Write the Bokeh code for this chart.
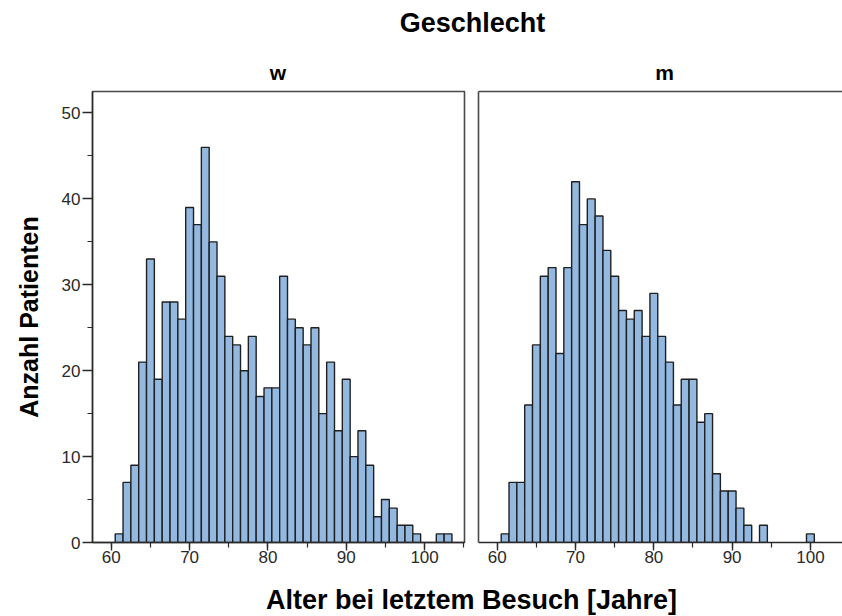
from bokeh.plotting import figure
from bokeh.models import (Range1d, LinearAxis, SingleIntervalTicker, FixedTicker,
                          Label, ColumnDataSource)
from bokeh.layouts import column, row
from bokeh.embed import file_html
from bokeh.resources import INLINE

# ---- data (bin centres in years, counts per 1-year bin) ----
ages_w = list(range(61, 104))
counts_w = [1, 7, 9, 21, 33, 19, 28, 28, 26, 39, 37, 46, 35, 31, 24, 23, 20, 24,
            17, 18, 18, 31, 26, 25, 23, 25, 15, 21, 13, 19, 10, 13, 9, 3, 5, 4,
            2, 2, 1, 0, 0, 1, 1]
ages_m = list(range(61, 101))
counts_m = [1, 7, 7, 16, 23, 31, 32, 22, 32, 42, 37, 40, 38, 34, 31, 27, 26, 27,
            24, 29, 24, 21, 16, 19, 19, 14, 15, 8, 6, 6, 4, 2, 0, 2, 0, 0, 0, 0,
            0, 1]
panel_titles = ["w", "m"]
main_title = "Geschlecht"
x_title = "Alter bei letztem Besuch [Jahre]"
y_title = "Anzahl Patienten"

FONT = "Liberation Sans"
BAR_FILL = "#94b9e0"
BAR_LINE = "#202020"
AX = "#2a2a2a"
FRAME = "#4a4a4a"


def style_xaxis(ax):
    ax.ticker = SingleIntervalTicker(interval=10, num_minor_ticks=2)
    ax.axis_line_color = AX
    ax.axis_line_width = 1.4
    ax.major_tick_line_color = AX
    ax.minor_tick_line_color = AX
    ax.major_tick_line_width = 1.4
    ax.minor_tick_line_width = 1.2
    ax.major_tick_in = 0
    ax.major_tick_out = 8
    ax.minor_tick_in = 0
    ax.minor_tick_out = 5
    ax.major_label_standoff = 0
    ax.major_label_text_font = FONT
    ax.major_label_text_font_size = "17px"
    ax.major_label_text_color = "#2a2a2a"


def make_panel(ages, counts, width, x_end, border_left, border_right, first):
    p = figure(width=width, height=494,
               x_range=Range1d(57.6, x_end), y_range=Range1d(0, 52.5),
               output_backend="svg", toolbar_location=None,
               min_border_top=3, min_border_bottom=40,
               min_border_left=border_left, min_border_right=border_right)
    p.grid.visible = False
    p.background_fill_color = "white"
    p.border_fill_color = "white"
    src = ColumnDataSource(dict(
        age=[a for a, c in zip(ages, counts) if c > 0],
        count=[c for c in counts if c > 0]))
    p.vbar(x="age", top="count", bottom=0, width=1, source=src,
           fill_color=BAR_FILL, line_color=BAR_LINE, line_width=1.4)
    style_xaxis(p.xaxis[0])
    ya = p.yaxis[0]
    ya.axis_line_color = AX
    ya.axis_line_width = 1.4
    if first:
        p.outline_line_color = FRAME
        p.outline_line_width = 1.6
        ya.ticker = SingleIntervalTicker(interval=10, num_minor_ticks=2)
        ya.major_tick_line_color = AX
        ya.minor_tick_line_color = AX
        ya.major_tick_line_width = 1.4
        ya.minor_tick_line_width = 1.2
        ya.major_tick_in = 0
        ya.major_tick_out = 10
        ya.minor_tick_in = 0
        ya.minor_tick_out = 5
        ya.major_label_standoff = 2
        ya.major_label_text_font = FONT
        ya.major_label_text_font_size = "17px"
        ya.major_label_text_color = "#2a2a2a"
        ya.axis_label = y_title
        ya.axis_label_text_font = FONT
        ya.axis_label_text_font_style = "bold"
        ya.axis_label_text_font_size = "25px"
        ya.axis_label_text_color = "black"
        ya.axis_label_standoff = 16
    else:
        p.outline_line_color = None
        ya.ticker = FixedTicker(ticks=[])
        ya.major_tick_out = 0
        ya.major_label_standoff = 0
        ya.axis_line_color = FRAME
        ya.axis_line_width = 1.6
        top_ax = LinearAxis(ticker=FixedTicker(ticks=[]), axis_line_color=FRAME,
                            axis_line_width=1.6, major_tick_out=0,
                            major_label_standoff=0)
        p.add_layout(top_ax, "above")
    return p


p1 = make_panel(ages_w, counts_w, 470, 105.1, 92, 6, True)
p2 = make_panel(ages_m, counts_m, 372, 104.1, 8, 0, False)

# header with overall title and panel titles
top = figure(width=842, height=88, x_range=Range1d(0, 842), y_range=Range1d(88, 0),
             output_backend="svg", toolbar_location=None, min_border=0,
             x_axis_type=None, y_axis_type=None, outline_line_color=None)
top.grid.visible = False
top.add_layout(Label(x=472, y=22, text=main_title, text_align="center",
                     text_baseline="middle", text_font=FONT, text_font_style="bold",
                     text_font_size="27px", text_color="black"))
top.add_layout(Label(x=277.5, y=72, text=panel_titles[0], text_align="center",
                     text_baseline="middle", text_font=FONT, text_font_style="bold",
                     text_font_size="21px", text_color="black"))
top.add_layout(Label(x=664, y=72, text=panel_titles[1], text_align="center",
                     text_baseline="middle", text_font=FONT, text_font_style="bold",
                     text_font_size="21px", text_color="black"))

bottom = figure(width=842, height=34, x_range=Range1d(0, 842), y_range=Range1d(34, 0),
                output_backend="svg", toolbar_location=None, min_border=0,
                x_axis_type=None, y_axis_type=None, outline_line_color=None)
bottom.grid.visible = False
bottom.add_layout(Label(x=471, y=17, text=x_title, text_align="center",
                        text_baseline="middle", text_font=FONT, text_font_style="bold",
                        text_font_size="27px", text_color="black"))

layout = column(top, row(p1, p2), bottom)
open("out.html", "w").write(file_html(layout, INLINE))
